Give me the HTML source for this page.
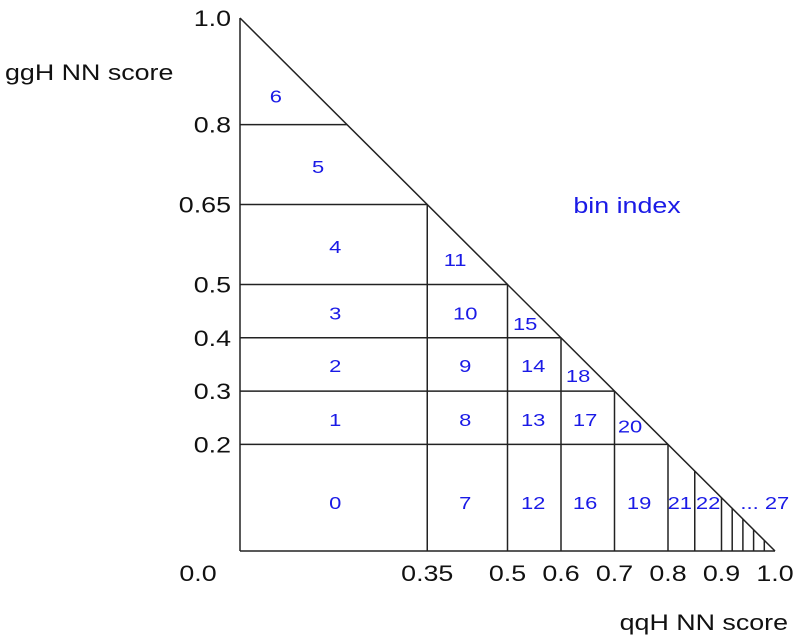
<!DOCTYPE html>
<html><head><meta charset="utf-8"><style>
body{margin:0;background:#fff}
svg{display:block;font-family:"Liberation Sans",sans-serif}
</style></head><body>
<svg id="c" width="808" height="640"></svg>
<script>
const yTicks=[0.2,0.3,0.4,0.5,0.65,0.8,1.0];
const yTickLabels=["0.2","0.3","0.4","0.5","0.65","0.8","1.0"];
const xTicks=[0.35,0.5,0.6,0.7,0.8,0.9,1.0];
const xTickLabels=["0.35","0.5","0.6","0.7","0.8","0.9","1.0"];
const hLines=[0.2,0.3,0.4,0.5,0.65,0.8];
const vLines=[0.35,0.5,0.6,0.7,0.8,0.85,0.9,0.92,0.94,0.96,0.98];
const binLabels=["6","5","4","3","2","1","0","11","10","9","8","7","15","14","13","12","18","17","16","20","19","21","22","... 27"];
const binX=[0.067,0.146,0.178,0.178,0.178,0.178,0.178,0.402,0.421,0.421,0.421,0.421,0.533,0.548,0.548,0.548,0.632,0.645,0.645,0.729,0.746,0.822,0.875,0.981];
const binY=[0.855,0.722,0.572,0.447,0.349,0.248,0.092,0.548,0.447,0.349,0.248,0.092,0.428,0.349,0.248,0.092,0.330,0.248,0.092,0.235,0.092,0.092,0.092,0.092];
const X=v=>240+v*535, Y=v=>551-v*533;
const svg=document.getElementById('c');const NS='http://www.w3.org/2000/svg';
function mk(t,a,p){const e=document.createElementNS(NS,t);for(const k in a)e.setAttribute(k,a[k]);(p||svg).appendChild(e);return e;}
function line(x1,y1,x2,y2,name){const l=mk('line',{x1,y1,x2,y2,stroke:'#222','stroke-width':1.5});

}
line(X(0),Y(0),X(0),Y(1),'left-edge');
line(X(0),Y(0),X(1),Y(0),'bottom-edge');
line(X(0),Y(1),X(1),Y(0),'diagonal-edge');
hLines.forEach(v=>line(X(0),Y(v),X(1-v),Y(v),'h-boundary'));
vLines.forEach(v=>line(X(v),Y(0),X(v),Y(1-v),'v-boundary'));
function text(x,y,s,o,name){const g=mk('g',{transform:`translate(${x},${y}) scale(1.22,1)`});
const t=mk('text',Object.assign({x:0,y:0},o),g);t.textContent=s;

return t;}
yTicks.forEach((v,i)=>text(231,Y(v)+8,yTickLabels[i],{'font-size':22,'text-anchor':'end',fill:'#111'},'y-tick-label'));
text(198,581,"0.0",{'font-size':22,'text-anchor':'middle',fill:'#111'},'x-origin-label');
xTicks.forEach((v,i)=>text(X(v),581,xTickLabels[i],{'font-size':22,'text-anchor':'middle',fill:'#111'},'x-tick-label'));
binLabels.forEach((s,i)=>text(X(binX[i]),Y(binY[i])+7,s,{'font-size':18,'text-anchor':'middle',fill:'#1a1ae6'},'bin-label'));
text(5,80,"ggH NN score",{'font-size':22,fill:'#111'},'y-axis-title');
text(788,630,"qqH NN score",{'font-size':22,'text-anchor':'end',fill:'#111'},'x-axis-title');
text(627,213,"bin index",{'font-size':22,'text-anchor':'middle',fill:'#1a1ae6'},'bin-index-label');
</script>
</body></html>
